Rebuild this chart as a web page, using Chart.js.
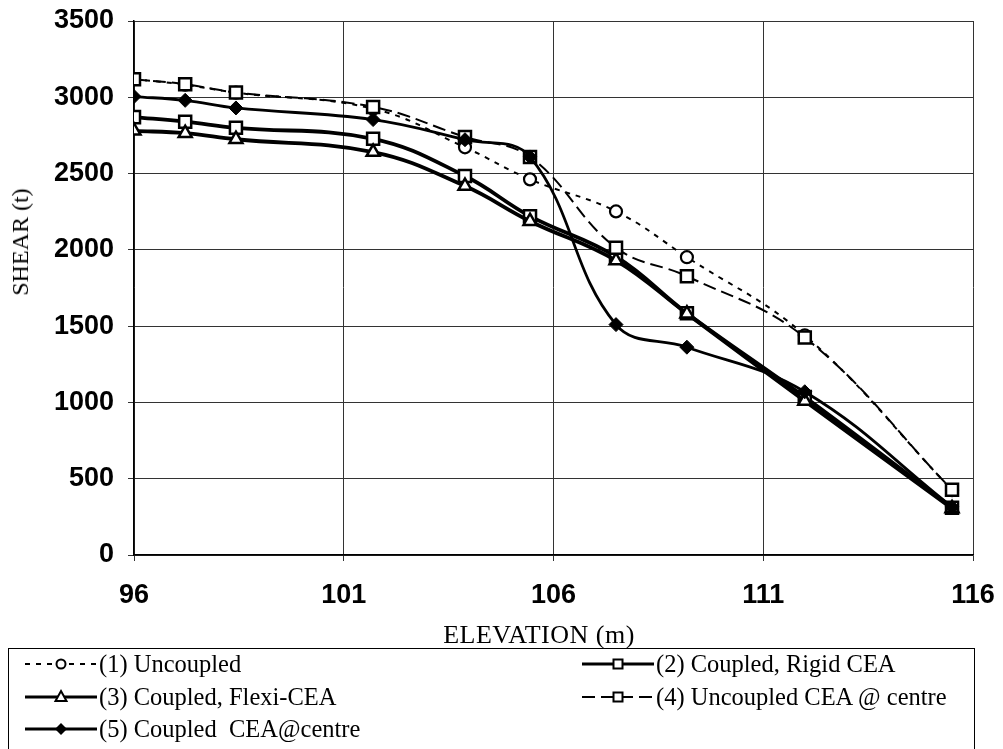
<!DOCTYPE html>
<html>
<head>
<meta charset="utf-8">
<script src="https://cdn.jsdelivr.net/npm/chart.js@4.4.1/dist/chart.umd.min.js"></script>
<style>
  html, body { margin: 0; padding: 0; background: #fff; }
  body { width: 1003px; height: 749px; position: relative; overflow: hidden; }
  #wrap { position: absolute; left: 0; top: 0; width: 1003px; height: 650px; }
  #legend { position: absolute; left: 8px; top: 648px; width: 967px; height: 120px;
            border: 1.5px solid #000; box-sizing: border-box; }
  .item { position: absolute; display: flex; align-items: center;
          font-family: "Liberation Serif", "Times New Roman", serif; font-size: 24.5px; color: #000; white-space: pre; }
  .item svg { margin-right: 2px; }
  .title { position: absolute; font-family: "Liberation Serif", "Times New Roman", serif; color: #000; white-space: pre; line-height: 1; }
  #ytitle { left: 20px; top: 242px; font-size: 24px; transform: translate(-50%, -50%) rotate(-90deg); }
  #xtitle { left: 539px; top: 635px; font-size: 26px; letter-spacing: 0.5px; transform: translate(-50%, -50%); }
</style>
</head>
<body>
<div id="wrap"><canvas id="c" width="1003" height="650"></canvas></div>
<div id="ytitle" class="title">SHEAR (t)</div>
<div id="xtitle" class="title">ELEVATION (m)</div>
<div id="legend"></div>
<script>
// ---- data ----
const elevation        = [96, 97.22, 98.43, 101.7, 103.89, 105.44, 107.49, 109.18, 111.99, 115.5];
const uncoupled        = [3120, 3082, 3030, 2925, 2672, 2462, 2252, 1952, 1440, 425];
const coupledRigid     = [2870, 2840, 2800, 2728, 2484, 2221, 1955, 1585, 1035, 310];
const coupledFlexi     = [2780, 2765, 2725, 2641, 2418, 2188, 1930, 1582, 1010, 305];
const uncoupledCentre  = [3118, 3086, 3031, 2937, 2740, 2609, 2014, 1827, 1426, 427];
const coupledCentre    = [3005, 2980, 2930, 2854, 2722, 2609, 1510, 1362, 1070, 315];
const seriesNames = ["(1) Uncoupled", "(2) Coupled, Rigid CEA", "(3) Coupled, Flexi-CEA",
                     "(4) Uncoupled CEA @ centre", "(5) Coupled  CEA@centre"];
const xTicks = [96, 101, 106, 111, 116];
const yTicks = [0, 500, 1000, 1500, 2000, 2500, 3000, 3500];

const pts = arr => elevation.map((x, i) => ({ x: x, y: arr[i] }));

const styles = [
  { data: uncoupled,       dash: [5, 6],  width: 2,   pointStyle: 'circle',   r: 6,   fill: '#fff', bw: 2.2 },
  { data: coupledRigid,    dash: [],      width: 3.8, pointStyle: 'rect',     r: 8.5, fill: '#fff', bw: 2.5 },
  { data: coupledFlexi,    dash: [],      width: 3.8, pointStyle: 'triangle', r: 7.5, fill: '#fff', bw: 2.5 },
  { data: uncoupledCentre, dash: [13, 6], width: 2,   pointStyle: 'rect',     r: 8.5, fill: '#fff', bw: 2.5 },
  { data: coupledCentre,   dash: [],      width: 2.8, pointStyle: 'rectRot',  r: 7,   fill: '#000', bw: 1 }
];

const datasets = styles.map((s, i) => ({
  label: seriesNames[i],
  data: pts(s.data),
  borderColor: '#000',
  borderWidth: s.width,
  borderDash: s.dash,
  tension: 0.4,
  fill: false,
  pointStyle: s.pointStyle,
  pointRadius: s.r,
  pointHoverRadius: s.r,
  pointBackgroundColor: s.fill,
  pointBorderColor: '#000',
  pointBorderWidth: s.bw,
  order: 5 - i
}));

const tickFont = { family: '"Liberation Sans", Arial, sans-serif', size: 27, weight: 'bold' };

new Chart(document.getElementById('c'), {
  type: 'line',
  data: { datasets: datasets },
  options: {
    responsive: false,
    animation: false,
    layout: { padding: { top: 21, right: 30, left: 0, bottom: 0 } },
    plugins: { legend: { display: false }, tooltip: { enabled: false } },
    scales: {
      x: {
        type: 'linear',
        min: 96, max: 116,
        afterBuildTicks: s => { s.ticks = xTicks.map(v => ({ value: v })); },
        afterFit: s => { s.height = 95; s.paddingLeft = 0; s.paddingRight = 0; },
        ticks: { color: '#000', font: tickFont, padding: 18, maxRotation: 0, autoSkip: false,
                 callback: v => String(v) },
        grid: { color: '#333', lineWidth: 1, tickLength: 6, drawTicks: true },
        border: { color: '#000', width: 1.5 }
      },
      y: {
        type: 'linear',
        min: 0, max: 3500,
        afterBuildTicks: s => { s.ticks = yTicks.map(v => ({ value: v })); },
        afterFit: s => { s.width = 134; s.paddingTop = 0; s.paddingBottom = 0; },
        ticks: { color: '#000', font: tickFont, padding: 14, callback: v => String(v) },
        grid: { color: '#333', lineWidth: 1, tickLength: 6, drawTicks: true },
        border: { color: '#000', width: 1.5 }
      }
    }
  }
});

// ---- HTML legend ----
function sample(i) {
  const s = styles[i];
  const dash = s.dash.length ? `stroke-dasharray="${s.dash.join(',')}"` : '';
  let marker = '';
  const cx = 36, cy = 11;
  if (s.pointStyle === 'circle') marker = `<circle cx="${cx}" cy="${cy}" r="4.5" fill="#fff" stroke="#000" stroke-width="2"/>`;
  if (s.pointStyle === 'rect') marker = `<rect x="${cx-4.5}" y="${cy-4.5}" width="9" height="9" fill="#fff" stroke="#000" stroke-width="2"/>`;
  if (s.pointStyle === 'triangle') marker = `<polygon points="${cx},${cy-6} ${cx+5.5},${cy+4} ${cx-5.5},${cy+4}" fill="#fff" stroke="#000" stroke-width="2"/>`;
  if (s.pointStyle === 'rectRot') marker = `<polygon points="${cx},${cy-6} ${cx+6},${cy} ${cx},${cy+6} ${cx-6},${cy}" fill="#000"/>`;
  return `<svg width="72" height="22"><line x1="0" y1="${cy}" x2="72" y2="${cy}" stroke="#000" stroke-width="${Math.min(s.width, 2.8)}" ${dash}/>${marker}</svg>`;
}
const legendPos = [[16, 1], [573, 1], [16, 34], [573, 34], [16, 66]];
const lg = document.getElementById('legend');
seriesNames.forEach((name, i) => {
  const d = document.createElement('div');
  d.className = 'item';
  d.style.left = legendPos[i][0] + 'px';
  d.style.top = legendPos[i][1] + 'px';
  d.innerHTML = sample(i) + '<span>' + name + '</span>';
  lg.appendChild(d);
});
</script>
</body>
</html>
